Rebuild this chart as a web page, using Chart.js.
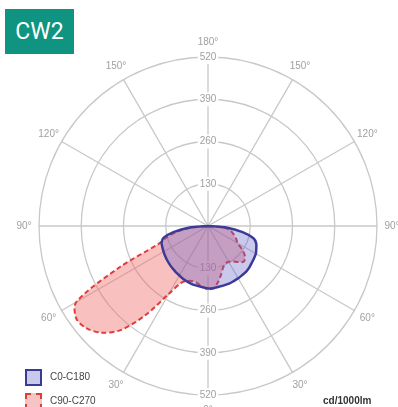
<!DOCTYPE html>
<html>
<head>
<meta charset="utf-8">
<script src="https://cdn.jsdelivr.net/npm/chart.js@4"></script>
<style>
  body { margin: 0; background: #fff; }
  #wrap { position: relative; width: 398px; height: 407px; overflow: hidden; }
  #badge { position: absolute; left: 5px; top: 9px; width: 69px; height: 45px; background: #0e9480;
           color: #fff; font: 23px Roboto, sans-serif; line-height: 45px; text-align: center; }
  .leg { position: absolute; left: 25px; font: 10px "Liberation Sans", Arial, sans-serif; color: #444; }
  .leg span { position: absolute; left: 0; width: 13px; height: 13px; box-sizing: content-box; }
  .leg b { position: absolute; left: 25px; top: 2px; font-weight: normal; white-space: nowrap; }
  #unit { position: absolute; left: 323px; top: 395px; font: bold 10px "Liberation Sans", Arial, sans-serif; color: #333; }
</style>
</head>
<body>
<div id="wrap">
  <canvas id="polar"></canvas>
  <div id="badge">CW2</div>
  <div class="leg" style="top:369px"><span style="border:2.5px solid #3b3b97;background:#c9c9ec"></span><b>C0-C180</b></div>
  <div class="leg" style="top:393px"><span style="border:2px dashed #e23b3b;background:#f7c4c4"></span><b>C90-C270</b></div>
  <div id="unit">cd/1000lm</div>
</div>
<script>
// angle step of the measured data, degrees (clockwise from top = 180°)
var stepDeg = 5;
var ringTicks = [130, 260, 390, 520];
var angleTickLabels = ['180°','150°','120°','90°','60°','30°','0°','30°','60°','90°','120°','150°'];

// C0-C180, cd/1000lm
var c0c180 = [0,0,0,0,0,0,0,0,0,0,0,0,0,0,0,0,0,0,0,
  56,108,145,158,164,170,173,176,180,183,184,186,187,189,189,190,192,192,
  189,187,186,183,180,176,173,170,167,164,161,158,155,152,142,108,56,
  0,0,0,0,0,0,0,0,0,0,0,0,0,0,0,0,0,0];

// C90-C270, cd/1000lm
var c90c270 = [0,0,0,0,0,0,0,0,0,0,0,0,0,0,0,0,0,0,0,
  43,68,77,87,96,105,130,149,155,145,133,127,127,136,155,176,192,195,
  189,180,176,180,192,241,334,418,464,489,495,468,300,163,130,93,46,
  0,0,0,0,0,0,0,0,0,0,0,0,0,0,0,0,0,0];

var labels = [];
for (var i = 0; i < c0c180.length; i++) {
  var a = i * stepDeg;
  labels.push(a <= 180 ? 180 - a : a - 180);
}

const polarText = {
  id: 'polarText',
  beforeDatasetsDraw(chart) {
    const r = chart.scales.r, ctx = chart.ctx;
    ctx.save();
    ctx.font = '10px "Liberation Sans", Arial, sans-serif';
    ctx.textAlign = 'center';
    ctx.textBaseline = 'middle';
    // ring values again on the lower spoke
    ringTicks.forEach(v => {
      const y = r.yCenter + r.getDistanceFromCenterForValue(v);
      const w = ctx.measureText(String(v)).width + 4;
      ctx.fillStyle = '#fff';
      ctx.fillRect(r.xCenter - w / 2, y - 7, w, 14);
      ctx.fillStyle = '#a0a0a0';
      ctx.fillText(String(v), r.xCenter, y);
    });
    ctx.fillStyle = '#a0a0a0';
    angleTickLabels.forEach((t, k) => {
      const p = r.getPointPosition(k * 30 / stepDeg, r.drawingArea + 15);
      ctx.fillText(t, p.x, p.y);
    });
    ctx.restore();
  }
};

new Chart(document.getElementById('polar'), {
  type: 'radar',
  data: {
    labels: labels,
    datasets: [
      {
        label: 'C0-C180',
        data: c0c180,
        borderColor: '#3b3b97',
        borderWidth: 2.5,
        backgroundColor: 'rgba(90, 90, 200, 0.33)',
        pointRadius: 0,
        tension: 0.2,
        fill: true
      },
      {
        label: 'C90-C270',
        data: c90c270,
        borderColor: '#e23b3b',
        borderWidth: 2,
        borderDash: [5, 3],
        backgroundColor: 'rgba(240, 105, 105, 0.42)',
        pointRadius: 0,
        tension: 0.3,
        fill: true
      }
    ]
  },
  options: {
    responsive: true,
    maintainAspectRatio: false,
    animation: false,
    layout: { padding: { left: 32, right: 14, top: 50, bottom: 5 } },
    plugins: { legend: { display: false }, tooltip: { enabled: false } },
    scales: {
      r: {
        min: 0,
        max: 520,
        ticks: {
          stepSize: 130,
          color: '#a0a0a0',
          font: { size: 10, family: '"Liberation Sans", Arial, sans-serif' },
          showLabelBackdrop: true,
          backdropColor: '#fff',
          backdropPadding: 2
        },
        grid: { circular: true, color: '#c8c8c8', lineWidth: 1.3 },
        angleLines: {
          color: (ctx) => (ctx.index % (30 / stepDeg) === 0 ? '#c8c8c8' : 'transparent'),
          lineWidth: 1.3
        },
        pointLabels: { display: false }
      }
    }
  },
  plugins: [polarText]
});
</script>
</body>
</html>
